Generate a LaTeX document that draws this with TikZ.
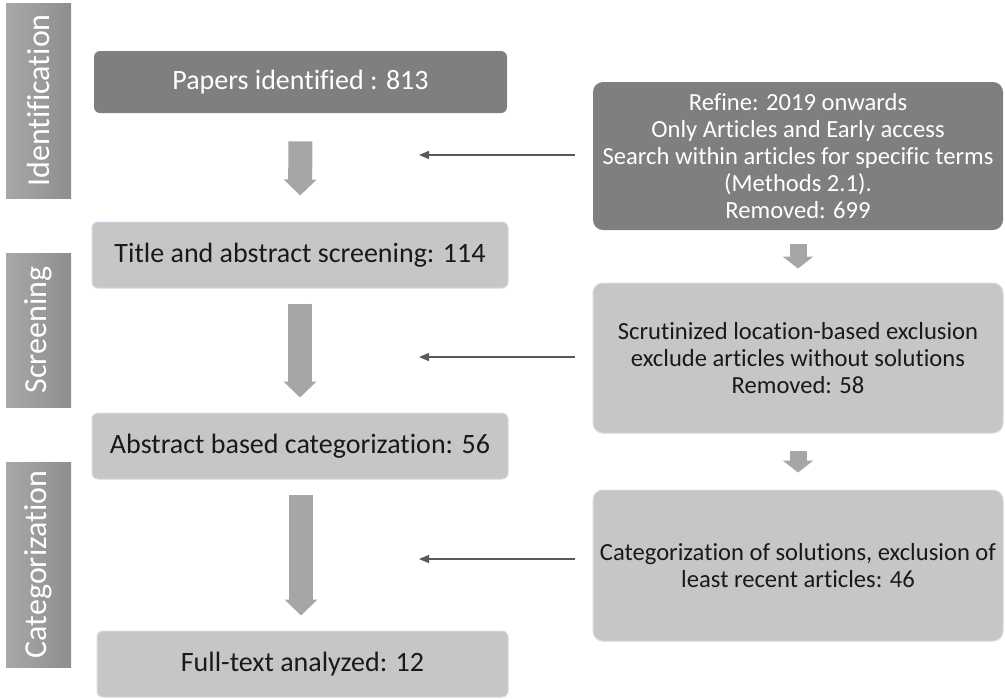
\documentclass[tikz,border=0pt]{standalone}
\usepackage{fontspec}
\setmainfont{Carlito}[Ligatures=NoCommon]
\usepackage{tikz}
\usetikzlibrary{arrows.meta,calc}
\definecolor{darkbox}{HTML}{7F7F7F}
\definecolor{lightbox}{HTML}{C6C6C6}
\definecolor{boxrim}{HTML}{D3D9EA}
\definecolor{fatgray}{HTML}{A6A6A6}
\definecolor{thingray}{HTML}{595959}
\definecolor{bartop}{HTML}{A8A8A8}
\definecolor{barbot}{HTML}{8E8E8E}

\begin{document}
\begin{tikzpicture}[x=0.5pt,y=-0.5pt]
\useasboundingbox (0,0) rectangle (1005,698);
\tikzstyle{stage} = [inner sep=0pt, text=white, rotate=90, minimum height=32.5pt, top color=bartop, bottom color=barbot, shading angle=90, font=\fontsize{16}{19}\selectfont]
\tikzstyle{darkstep} = [rounded corners=3pt, fill=darkbox, text=white, inner sep=0pt, font=\fontsize{14}{16.8}\selectfont]
\tikzstyle{lightstep} = [rounded corners=3pt, fill=lightbox, draw=boxrim, line width=0.5pt, text=black!90, inner sep=0pt, font=\fontsize{14}{16.8}\selectfont]
\tikzstyle{sidebox} = [rounded corners=5pt, inner sep=0pt, align=center, minimum width=205pt, font=\fontsize{12.3}{13.5}\selectfont]
\tikzstyle{fat} = [draw=fatgray, line width=12pt, -{Triangle[width=16pt,length=8pt]}]
\tikzstyle{small} = [draw=fatgray, line width=8.5pt, -{Triangle[width=15pt,length=6pt]}]
\tikzstyle{thin} = [draw=thingray, line width=0.75pt, -{Triangle[width=4pt,length=5pt]}]

% stages on the left
\node[stage, minimum width=97.5pt] (ident) at (38.5,100.5) {Identification};
\node[stage, minimum width=77pt] (screen) at (38.5,330) {Screening};
\node[stage, minimum width=102.5pt] (categ) at (38.5,564.5) {Categorization};

% main column
\node[darkstep, minimum width=206.5pt, minimum height=31pt] (found) at (300.5,82) {Papers identified : 813};
\node[lightstep, minimum width=208pt, minimum height=33pt] (title) at (300,255) {Title and abstract screening: 114};
\node[lightstep, minimum width=208pt, minimum height=33pt] (abstr) at (300,446) {Abstract based categorization: 56};
\node[lightstep, minimum width=205.5pt, minimum height=33pt] (full) at (302.5,664) {Full-text analyzed: 12};

% removal column
\node[sidebox, darkstep, rounded corners=5pt, align=center, font=\fontsize{12.3}{13.5}\selectfont, minimum height=74pt] (refine) at (798,156) {Refine: 2019 onwards\\Only Articles and Early access\\Search within articles for specific terms\\(Methods 2.1).\\Removed: 699};
\node[sidebox, lightstep, rounded corners=5pt, align=center, font=\fontsize{12.3}{13.5}\selectfont, minimum height=75pt] (scrut) at (798,358) {Scrutinized location-based exclusion\\exclude articles without solutions\\Removed: 58};
\node[sidebox, lightstep, rounded corners=5pt, align=center, font=\fontsize{12.3}{13.5}\selectfont, minimum height=75.5pt] (sol) at (798,565.5) {Categorization of solutions, exclusion of\\least recent articles: 46};

% arrows
\draw[fat, shorten <=14pt, shorten >=13pt] (found.south) -- (title.north);
\draw[fat, shorten <=7.5pt, shorten >=7.5pt] (title.south) -- (abstr.north);
\draw[fat, shorten <=7.5pt, shorten >=7.5pt] ($(abstr.south)+(1,0)$) -- ($(full.north)+(-1.5,0)$);
\draw[small, shorten <=7pt, shorten >=7pt] (refine.south) -- (scrut.north);
\draw[small, shorten <=8.5pt, shorten >=8.5pt] (scrut.south) -- (sol.north);

\coordinate (in1) at (419,155);
\coordinate (in2) at (419,357);
\coordinate (in3) at (419,559);
\draw[thin] ($(refine.west)+(-18,-1)$) -- (in1);
\draw[thin] ($(scrut.west)+(-18,-1)$) -- (in2);
\draw[thin] ($(sol.west |- in3)+(-18,0)$) -- (in3);
\end{tikzpicture}
\end{document}
